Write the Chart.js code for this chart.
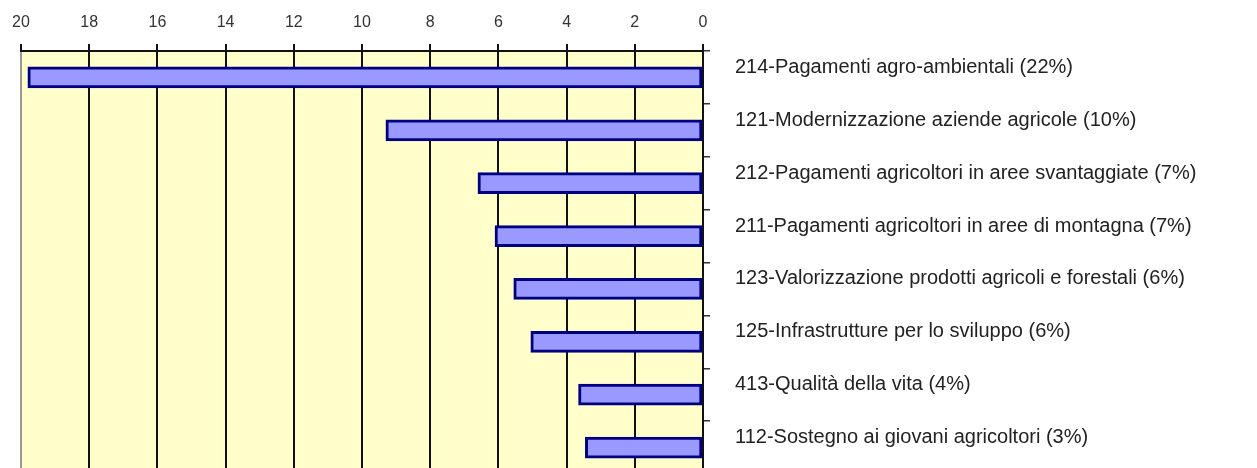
<!DOCTYPE html>
<html>
<head>
<meta charset="utf-8">
<script src="https://cdn.jsdelivr.net/npm/chart.js@4/dist/chart.umd.min.js"></script>
<style>
  html, body { margin: 0; padding: 0; background: #fff; overflow: hidden; }
  #wrap { width: 1257px; height: 511px; }
</style>
</head>
<body>
<div id="wrap"><canvas id="misureChart"></canvas></div>
<script>
// Measures and their values
const misure = [
    '214-Pagamenti agro-ambientali (22%)',
    '121-Modernizzazione aziende agricole (10%)',
    '212-Pagamenti agricoltori in aree svantaggiate (7%)',
    '211-Pagamenti agricoltori in aree di montagna (7%)',
    '123-Valorizzazione prodotti agricoli e forestali (6%)',
    '125-Infrastrutture per lo sviluppo (6%)',
    '413-Qualità della vita (4%)',
    '112-Sostegno ai giovani agricoltori (3%)'
];
const valori = [19.8, 9.3, 6.6, 6.1, 5.55, 5.05, 3.65, 3.45];
const scalaMin = 0;
const scalaMax = 20;
const scalaPasso = 2;

// yellow plot background
const sfondoPlugin = {
    id: 'sfondo',
    beforeDraw(chart) {
        const { ctx, chartArea } = chart;
        ctx.save();
        ctx.fillStyle = '#FFFFCC';
        ctx.fillRect(chartArea.left, chartArea.top, chartArea.right - chartArea.left, chartArea.bottom - chartArea.top);
        ctx.restore();
    }
};

const ctx = document.getElementById('misureChart').getContext('2d');
new Chart(ctx, {
    type: 'bar',
    data: {
        labels: misure,
        datasets: [{
            data: valori,
            backgroundColor: '#9999FF',
            borderColor: '#000080',
            borderWidth: 3,
            borderSkipped: false,
            barThickness: 21
        }]
    },
    options: {
        indexAxis: 'y',
        responsive: true,
        maintainAspectRatio: false,
        animation: false,
        layout: { padding: { left: 21, right: 0, top: 0, bottom: 0 } },
        plugins: {
            legend: { display: false },
            tooltip: { enabled: false }
        },
        scales: {
            x: {
                position: 'top',
                reverse: true,
                min: scalaMin,
                max: scalaMax,
                ticks: {
                    stepSize: scalaPasso,
                    padding: 12,
                    color: '#333',
                    font: { family: 'Liberation Sans, Arial, sans-serif', size: 16 }
                },
                grid: {
                    color: c => (c.tick && c.tick.value === scalaMax) ? '#999' : '#111',
                    lineWidth: 2,
                    tickColor: '#111',
                    tickLength: 7
                },
                border: { color: '#111', width: 2 },
                afterFit(scale) { scale.height = 51; }
            },
            y: {
                position: 'right',
                ticks: {
                    padding: 25,
                    labelOffset: -10,
                    color: '#222',
                    font: { family: 'Liberation Sans, Arial, sans-serif', size: 20 }
                },
                grid: {
                    drawOnChartArea: false,
                    color: '#333',
                    tickLength: 7,
                    lineWidth: 1.5
                },
                border: { color: '#111', width: 2 },
                afterFit(scale) { scale.width = 554; }
            }
        }
    },
    plugins: [sfondoPlugin]
});
</script>
</body>
</html>
